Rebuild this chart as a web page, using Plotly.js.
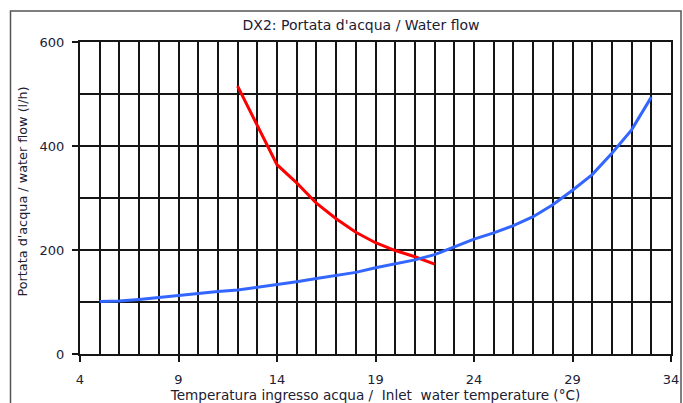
<!DOCTYPE html>
<html>
<head>
<meta charset="utf-8">
<script src="https://cdn.plot.ly/plotly-3.0.1.min.js"></script>
<style>
html,body{margin:0;padding:0;background:#fff;}
#chart{width:683px;height:403px;}
</style>
</head>
<body>
<div id="chart"></div>
<script>
// Red curve
const redX = [12, 13, 14, 15, 16, 17, 18, 19, 20, 21, 22];
const redY = [515, 440, 364, 329, 290, 260, 234, 214, 199, 187, 173];
// Blue curve
const blueX = [5, 6, 7, 8, 9, 10, 11, 12, 13, 14, 15, 16, 17, 18, 19, 20, 21, 22, 23, 24, 25, 26, 27, 28, 29, 30, 31, 32, 33];
const blueY = [101, 102, 105, 109, 113, 117, 120, 123, 128, 133, 139, 145, 151, 157, 166, 173, 181, 191, 206, 221, 233, 247, 264, 287, 315, 345, 386, 431, 494];
// Tick labels
const xTicks = [4, 9, 14, 19, 24, 29, 34];
const yTicks = [0, 200, 400, 600];

const titleText = "DX2: Portata d'acqua / Water flow";
const xTitle = "Temperatura ingresso acqua /  Inlet  water temperature (°C)";
const yTitle = "Portata d'acqua / water flow (l/h)";

const font = "DejaVu Sans, sans-serif";
const txtColor = "#202033";
const gridC = '#151515';

const traces = [
  {x: redX, y: redY, type: 'scatter', mode: 'lines', line: {color: '#ff0000', width: 3}, hoverinfo: 'skip'},
  {x: blueX, y: blueY, type: 'scatter', mode: 'lines', line: {color: '#3366ff', width: 3}, hoverinfo: 'skip'}
];

const layout = {
  width: 683, height: 403,
  margin: {l: 80, r: 12, t: 42, b: 49},
  paper_bgcolor: '#fff', plot_bgcolor: '#fff',
  showlegend: false,
  font: {family: font, size: 13, color: txtColor},
  title: {text: titleText, x: 361/683, xref: 'container', xanchor: 'center', y: 1 - 25/403, yref: 'container', yanchor: 'middle', font: {family: font, size: 14, color: txtColor}},
  xaxis: {
    range: [4, 34], tickmode: 'array', tickvals: xTicks, ticktext: xTicks.map(String),
    showgrid: true, gridcolor: gridC, gridwidth: 2,
    ticks: 'outside', ticklen: 6, tickwidth: 2, tickcolor: gridC,
    ticklabelstandoff: 6,
    minor: {tick0: 4, dtick: 1, showgrid: true, gridcolor: gridC, gridwidth: 2, ticks: ''},
    zeroline: false, showline: true, mirror: true, linecolor: gridC, linewidth: 2,
    tickfont: {family: font, size: 13, color: txtColor},
    title: {text: xTitle, standoff: 5, font: {family: font, size: 13.6, color: txtColor}}
  },
  yaxis: {
    range: [0, 600], tickmode: 'array', tickvals: yTicks, ticktext: yTicks.map(String),
    showgrid: true, gridcolor: gridC, gridwidth: 2,
    ticks: 'outside', ticklen: 6, tickwidth: 2, tickcolor: gridC,
    ticklabelstandoff: 5,
    minor: {tick0: 0, dtick: 100, showgrid: true, gridcolor: gridC, gridwidth: 2, ticks: ''},
    zeroline: false, showline: true, mirror: true, linecolor: gridC, linewidth: 2,
    tickfont: {family: font, size: 13, color: txtColor}
  },
  annotations: [
    {text: yTitle, xref: 'paper', yref: 'paper', x: (22-80)/591, y: (354-191.5)/312, xanchor: 'center', yanchor: 'middle', textangle: -90, showarrow: false, font: {family: font, size: 12.8, color: txtColor}}
  ],
  shapes: [
    {type: 'rect', xref: 'paper', yref: 'paper', x0: (10.5-80)/591, x1: (681-80)/591, y0: (354-420)/312, y1: (354-11)/312, line: {color: '#555', width: 1.5}, fillcolor: 'rgba(0,0,0,0)', layer: 'below'}
  ]
};

Plotly.newPlot('chart', traces, layout, {staticPlot: true, displayModeBar: false});
</script>
</body>
</html>
